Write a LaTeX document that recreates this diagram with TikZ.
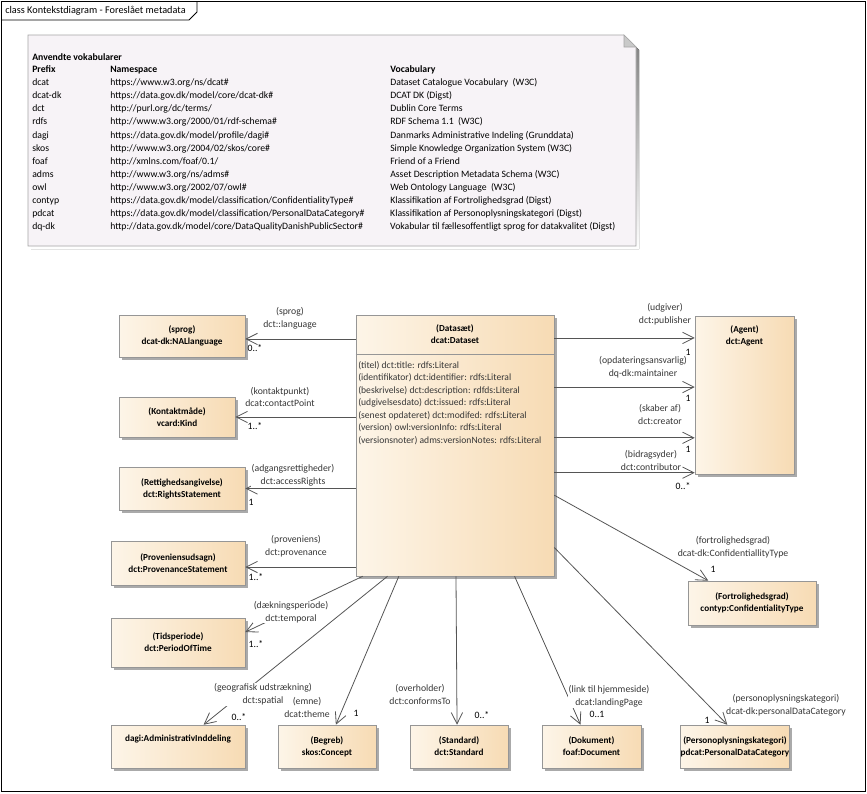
\documentclass[tikz,border=0pt]{standalone}
\usepackage{fontspec}
\setmainfont{Carlito}
\usepackage{array}
\usetikzlibrary{arrows.meta,calc,shadows,positioning}

\definecolor{boxleft}{RGB}{253,245,232}
\definecolor{boxright}{RGB}{247,219,180}
\definecolor{boxline}{RGB}{150,150,150}
\definecolor{notefill}{RGB}{247,243,247}
\definecolor{noteline}{RGB}{165,165,165}
\definecolor{shade}{RGB}{170,170,170}
\definecolor{wire}{RGB}{85,85,85}
\definecolor{txt}{RGB}{55,55,55}

\tikzset{
  cls/.style = {draw=boxline, left color=boxleft, right color=boxright,
    drop shadow={shadow xshift=2.2pt, shadow yshift=-2.2pt, fill=shade, opacity=1},
    font=\fontsize{6.9}{9}\selectfont\bfseries, align=center, inner sep=0pt},
  clstitle/.style = {font=\fontsize{6.9}{8.6}\selectfont\bfseries, align=center, inner sep=0pt},
  box/.style 2 args = {minimum width=#1*0.75pt, minimum height=#2*0.75pt},
  role/.style = {font=\fontsize{7.3}{9.7}\selectfont, text=txt, fill=white, align=center, inner sep=0.4pt},
  mult/.style = {font=\fontsize{7.3}{9}\selectfont, inner sep=0pt},
  assoc/.style = {draw=wire, line width=0.6pt, -{Straight Barb[length=8.5pt,width=8.5pt]}},
}

\begin{document}
\begin{tikzpicture}[x=0.75pt,y=-0.75pt]
\useasboundingbox (0,0) rectangle (867,793);

% frame and title tab
\draw[line width=0.6pt] (1,1) rectangle (865,791);
\draw[line width=0.6pt] (1,20) -- (189,20) -- (197,12) -- (197,1);
\node[anchor=west, inner sep=0pt, font=\fontsize{7.7}{8}\selectfont] (title) at (5,11) {class Kontekstdiagram - Foreslået metadata};

% note with vocabularies
\fill[shade] (31,38) -- (627,38) -- (639,50) -- (639,249) -- (31,249) -- cycle;
\filldraw[fill=notefill, draw=noteline] (28,35) -- (624,35) -- (636,47) -- (636,246) -- (28,246) -- cycle;
\filldraw[fill=noteline!60, draw=noteline] (624,35) -- (624,47) -- (636,47) -- cycle;
\node[anchor=north west, inner sep=0pt, font=\fontsize{7.3}{9.8}\selectfont] (vocab) at (32,51) {%
\begin{tabular}{@{}p{58.5pt}@{}p{210pt}@{}l@{}}
\multicolumn{3}{@{}l}{\bfseries Anvendte vokabularer}\\[-0.6pt]
\bfseries Prefix & \bfseries Namespace & \bfseries Vocabulary\\
dcat & https://www.w3.org/ns/dcat\# & Dataset Catalogue Vocabulary\ \ (W3C)\\
dcat-dk & https://data.gov.dk/model/core/dcat-dk\# & DCAT DK (Digst)\\
dct & http://purl.org/dc/terms/ & Dublin Core Terms\\
rdfs & http://www.w3.org/2000/01/rdf-schema\# & RDF Schema 1.1\ \ (W3C)\\
dagi & https://data.gov.dk/model/profile/dagi\# & Danmarks Administrative Indeling (Grunddata)\\
skos & http://www.w3.org/2004/02/skos/core\# & Simple Knowledge Organization System (W3C)\\
foaf & http://xmlns.com/foaf/0.1/ & Friend of a Friend\\
adms & http://www.w3.org/ns/adms\# & Asset Description Metadata Schema (W3C)\\
owl & http://www.w3.org/2002/07/owl\# & Web Ontology Language\ \ (W3C)\\
contyp & https://data.gov.dk/model/classification/ConfidentialityType\# & Klassifikation af Fortrolighedsgrad (Digst)\\
pdcat & https://data.gov.dk/model/classification/PersonalDataCategory\# & Klassifikation af Personoplysningskategori (Digst)\\
dq-dk & http://data.gov.dk/model/core/DataQualityDanishPublicSector\# & Vokabular til fællesoffentligt sprog for datakvalitet (Digst)\\
\end{tabular}};

% classes
\node[cls, box={198}{261}] (dataset) at (455,445.5) {};
\node[clstitle, below=7.5pt of dataset.north] (datasettitle) {(Datasæt)\\dcat:Dataset};
\draw[boxline] ($(dataset.north west)+(0,40)$) -- ($(dataset.north east)+(0,40)$);
\node[anchor=north west, inner sep=0pt, align=left, text=txt, font=\fontsize{7.2}{9.4}\selectfont] (attrs) at (358,361)
  {(titel) dct:title: rdfs:Literal\\
   (identifikator) dct:identifier: rdfs:Literal\\
   (beskrivelse) dct:description: rdfds:Literal\\
   (udgivelsesdato) dct:issued: rdfs:Literal\\
   (senest opdateret) dct:modifed: rdfs:Literal\\
   (version) owl:versionInfo: rdfs:Literal\\
   (versionsnoter) adms:versionNotes: rdfs:Literal};

\node[cls, box={99}{158}] (agent) at (744.5,395) {};
\node[clstitle, below=7.5pt of agent.north] (agenttitle) {(Agent)\\dct:Agent};

\node[cls, box={126}{42}] (sprog) at (182,336) {(sprog)\\dcat-dk:NALlanguage};
\node[cls, box={116}{40}] (kontakt) at (177,417) {(Kontaktmåde)\\vcard:Kind};
\node[cls, box={126}{43}] (rettighed) at (182,488.5) {(Rettighedsangivelse)\\dct:RightsStatement};
\node[cls, box={134}{44}] (proveniens) at (178,563) {(Proveniensudsagn)\\dct:ProvenanceStatement};
\node[cls, box={134}{49}] (tidsperiode) at (178,642.5) {(Tidsperiode)\\dct:PeriodOfTime};
\node[cls, box={134}{43}] (dagi) at (178,746.5) {dagi:AdministrativInddeling\\[3pt]};
\node[cls, box={98}{43}] (begreb) at (327,746.5) {(Begreb)\\skos:Concept};
\node[cls, box={98}{43}] (standard) at (459,746.5) {(Standard)\\dct:Standard};
\node[cls, box={99}{43}] (dokument) at (591.5,746.5) {(Dokument)\\foaf:Document};
\node[cls, box={106}{43}] (personopl) at (735,746.5) {(Personoplysningskategori)\\pdcat:PersonalDataCategory};
\node[cls, box={128}{44}] (fortrolig) at (752,603) {(Fortrolighedsgrad)\\contyp:ConfidentialityType};

% end points
\coordinate (sprogE) at ($(sprog.north east)!.57!(sprog.south east)$);
\coordinate (provE) at ($(proveniens.north east)!.59!(proveniens.south east)$);
\coordinate (pubW) at ($(agent.north west)!.14!(agent.south west)$);
\coordinate (mainW) at ($(agent.north west)!.45!(agent.south west)$);
\coordinate (creW) at ($(agent.north west)!.77!(agent.south west)$);
\coordinate (conW) at ($(agent.north west)!.99!(agent.south west)$);

% associations, left
\draw[assoc] (dataset.west |- sprogE) -- (sprogE);
\draw[assoc] (dataset.west |- kontakt.east) -- (kontakt.east);
\draw[assoc] (dataset.west |- rettighed.east) -- (rettighed.east);
\draw[assoc] (dataset.west |- provE) -- (provE);
% associations, right
\draw[assoc] (dataset.east |- pubW) -- (pubW);
\draw[assoc] (dataset.east |- mainW) -- (mainW);
\draw[assoc] (dataset.east |- creW) -- (creW);
\draw[assoc] (dataset.east |- conW) -- (conW);
\draw[assoc] ($(dataset.north east)!.69!(dataset.south east)$) -- ($(fortrolig.north west)!.16!(fortrolig.north east)$);
\draw[assoc] ($(dataset.north east)!.89!(dataset.south east)$) -- ($(personopl.north west)!.43!(personopl.north east)$);
% associations, bottom
\draw[assoc] ($(dataset.south west)!.035!(dataset.south east)$) -- ($(tidsperiode.north east)!.29!(tidsperiode.south east)$);
\draw[assoc] ($(dataset.south west)!.16!(dataset.south east)$) -- ($(dagi.north west)!.69!(dagi.north east)$);
\draw[assoc] ($(dataset.south west)!.217!(dataset.south east)$) -- ($(begreb.north west)!.59!(begreb.north east)$);
\draw[assoc] ($(dataset.south west)!.505!(dataset.south east)$) -- ($(standard.north west)!.48!(standard.north east)$);
\draw[assoc] ($(dataset.south west)!.80!(dataset.south east)$) -- ($(dokument.north west)!.39!(dokument.north east)$);

% role names
\node[role] (rsprog) at (290,318.5) {(sprog)\\dct::language};
\node[role] (rkontakt) at (280,397) {(kontaktpunkt)\\dcat:contactPoint};
\node[role] (rret) at (293,475.5) {(adgangsrettigheder)\\dct:accessRights};
\node[role] (rprov) at (296,546.5) {(proveniens)\\dct:provenance};
\node[role] (rtid) at (291,612) {(dækningsperiode)\\dct:temporal};
\node[role] (rpub) at (665,314) {(udgiver)\\dct:publisher};
\node[role] (rmain) at (643,367) {(opdateringsansvarlig)\\dq-dk:maintainer};
\node[role] (rcre) at (660,414.5) {(skaber af)\\dct:creator};
\node[role] (rcon) at (651,460.5) {(bidragsyder)\\dct:contributor};
\node[role] (rfort) at (733,547.5) {(fortrolighedsgrad)\\dcat-dk:ConfidentiallityType};
\node[role] (rdagi) at (263,694.5) {(geografisk udstrækning)\\dct:spatial};
\node[role] (rbeg) at (307,707) {(emne)\\dcat:theme};
\node[role] (rstd) at (420,694.5) {(overholder)\\dct:conformsTo};
\node[role] (rdok) at (609,696.5) {(link til hjemmeside)\\dcat:landingPage};
\node[role] (rpers) at (786,705.5) {(personoplysningskategori)\\dcat-dk:personalDataCategory};

% multiplicities
\node[mult] (msprog) at (255,348) {0..*};
\node[mult] (mkontakt) at (255,426) {1..*};
\node[mult] (mret) at (251,502) {1};
\node[mult] (mprov) at (256,577) {1..*};
\node[mult] (mtid) at (256,644) {1..*};
\node[mult] (mpub) at (688,352) {1};
\node[mult] (mmain) at (688,398) {1};
\node[mult] (mcre) at (688,449) {1};
\node[mult] (mcon) at (683,486) {0..*};
\node[mult] (mfort) at (713,569) {1};
\node[mult] (mdagi) at (239,717) {0..*};
\node[mult] (mbeg) at (356,713) {1};
\node[mult] (mstd) at (482,715) {0..*};
\node[mult] (mdok) at (597,714) {0..1};
\node[mult] (mpers) at (707,720) {1};
\end{tikzpicture}
\end{document}
